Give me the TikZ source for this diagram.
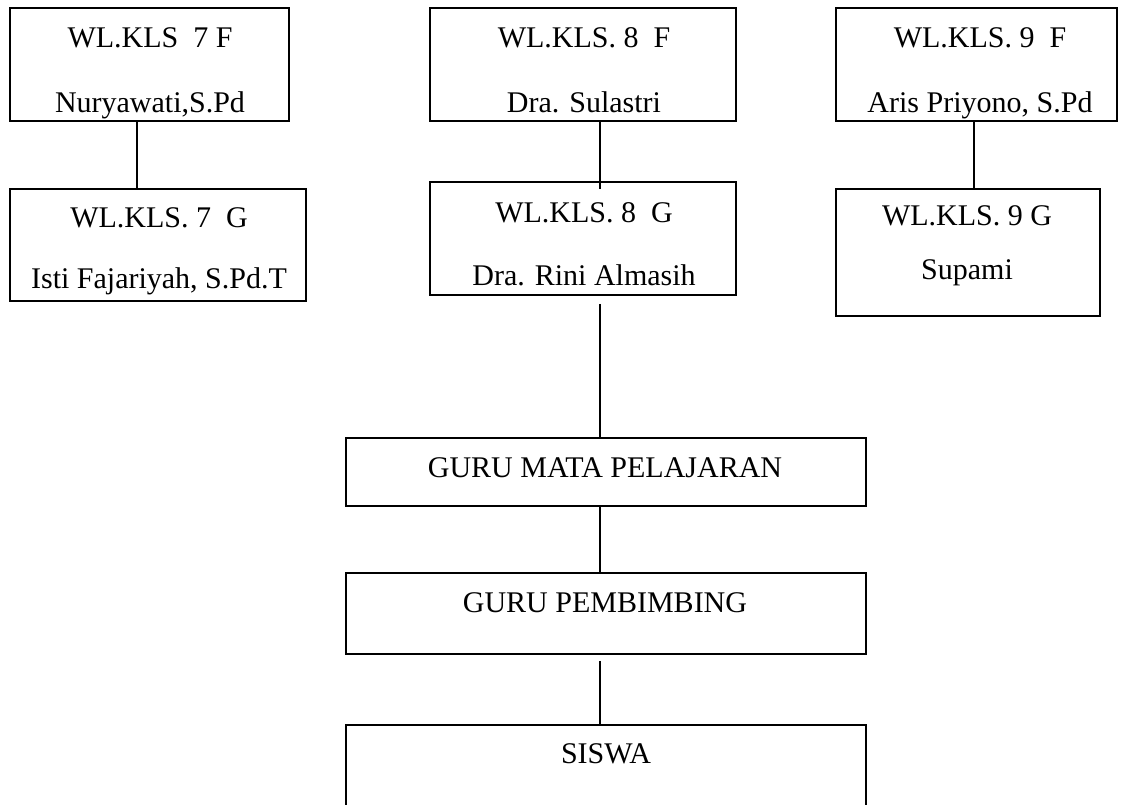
\documentclass[tikz,border=0pt]{standalone}
\usepackage{fontspec}
\setmainfont{Liberation Serif}
\usetikzlibrary{calc}
\begin{document}
\begin{tikzpicture}[x = .75pt, y = -.75pt,
    box/.style = {draw, line width = 1.3pt, inner sep = 0pt},
    lbl/.style = {anchor = base, inner sep = 0pt,
                  font = \fontsize{22.5}{27}\selectfont},
    link/.style = {line width = 1.3pt}]
      \clip (0,0) rectangle (1124,804);
      \fill [white] (0,0) rectangle (1124,804);
      % wali kelas
      \node [box, minimum width = 209.25pt, minimum height = 84.75pt] (k7f) at (149.5,64.5) {};
      \node [box, minimum width = 222pt, minimum height = 84pt] (k7g) at (158,245) {};
      \node [box, minimum width = 229.5pt, minimum height = 84.75pt] (k8f) at (583,64.5) {};
      \node [box, minimum width = 229.5pt, minimum height = 84.75pt] (k8g) at (583,238.5) {};
      \node [box, minimum width = 210.75pt, minimum height = 84.75pt] (k9f) at (976.5,64.5) {};
      \node [box, minimum width = 198pt, minimum height = 95.25pt] (k9g) at (968,252.5) {};
      % guru dan siswa
      \node [box, minimum width = 390pt, minimum height = 51pt] (guru) at (606,472) {};
      \node [box, minimum width = 390pt, minimum height = 60.75pt] (bk) at (606,613.5) {};
      \node [box, minimum width = 390pt, minimum height = 90pt] (siswa) at (606,785) {};
      % isi kotak
      \node [lbl] (t7fa) at (150,47) {WL.KLS~ 7 F};
      \node [lbl] (t7fb) at (150,112) {Nuryawati,S.Pd};
      \node [lbl] (t7ga) at (159,227) {WL.KLS. 7~ G};
      \node [lbl] (t7gb) at (159,288) {Isti Fajariyah, S.Pd.T};
      \node [lbl] (t8fa) at (584,47) {WL.KLS. 8~ F};
      \node [lbl] (t8fb) at (584,112) {Dra. Sulastri};
      \node [lbl] (t8ga) at (584,222) {WL.KLS. 8~ G};
      \node [lbl] (t8gb) at (584,285) {Dra. Rini Almasih};
      \node [lbl] (t9fa) at (980,47) {WL.KLS. 9~ F};
      \node [lbl] (t9fb) at (980,112) {Aris Priyono, S.Pd};
      \node [lbl] (t9ga) at (967,225) {WL.KLS. 9 G};
      \node [lbl] (t9gb) at (967,279) {Supami};
      \node [lbl] (tguru) at (605,477) {GURU MATA PELAJARAN};
      \node [lbl] (tbk) at (605,612) {GURU PEMBIMBING};
      \node [lbl] (tsiswa) at (606,763) {SISWA};
      % garis
      \draw [link] ($(k7f.south)+(-12.5,0)$) -- ($(k7g.north)+(-21,0)$);
      \draw [link] ($(k8f.south)+(17,0)$) -- ($(k8g.north)+(17,8)$);
      \draw [link] ($(k9f.south)+(-2.5,0)$) -- ($(k9g.north)+(6,0)$);
      \draw [link] ($(k8g.south)+(17,8)$) -- ($(guru.north)+(-6,0)$);
      \draw [link] ($(guru.south)+(-6,0)$) -- ($(bk.north)+(-6,0)$);
      \draw [link] ($(bk.south)+(-6,6)$) -- ($(siswa.north)+(-6,0)$);
    \end{tikzpicture}
\end{document}
